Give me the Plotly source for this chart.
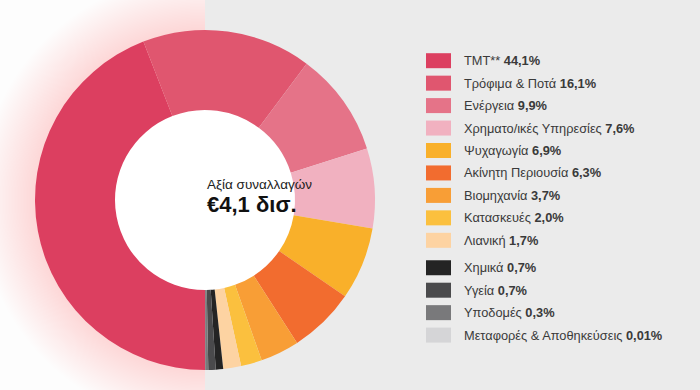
import numpy as np
import plotly.graph_objects as go

# ---------------- data ----------------
labels = ["TMT**", "Τρόφιμα & Ποτά", "Ενέργεια", "Χρηματο/ικές Υπηρεσίες",
          "Ψυχαγωγία", "Ακίνητη Περιουσία", "Βιομηχανία", "Κατασκευές",
          "Λιανική", "Χημικά", "Υγεία", "Υποδομές", "Μεταφορές & Αποθηκεύσεις"]
values = [44.1, 16.1, 9.9, 7.6, 6.9, 6.3, 3.7, 2.0, 1.7, 0.7, 0.7, 0.3, 0.01]
value_labels = ["44,1%", "16,1%", "9,9%", "7,6%", "6,9%", "6,3%", "3,7%",
                "2,0%", "1,7%", "0,7%", "0,7%", "0,3%", "0,01%"]
colors = ["#dc3f60", "#e0566f", "#e57388", "#f1b1c0", "#f9b02a", "#f26c2f",
          "#f89e36", "#fbc03e", "#fdd3a2", "#242424", "#4a4a4c", "#79797b",
          "#d5d5d7"]
center_title = "Αξία συναλλαγών"
center_value = "€4,1 δισ."

# ---------------- layout helpers ----------------
W, H = 700, 390
cx, cy, R = 205, 200, 170
r_hole = 90
FONT = "Liberation Sans, Arial, sans-serif"


def px(x):
    return x / W


def py(y):
    return 1 - y / H


def arc_path(r, side):
    if side == "left":
        t = np.linspace(np.pi / 2, 3 * np.pi / 2, 80)
    elif side == "right":
        t = np.linspace(-np.pi / 2, np.pi / 2, 80)
    else:
        t = np.linspace(0, 2 * np.pi, 160)
    xs = cx + r * np.cos(t)
    ys = cy - r * np.sin(t)
    pts = " L ".join(f"{px(a):.5f},{py(b):.5f}" for a, b in zip(xs, ys))
    return f"M {pts} Z"


shapes = []
# background halves
shapes.append(dict(type="rect", xref="paper", yref="paper", x0=0, x1=px(cx),
                   y0=0, y1=1, fillcolor="#fdfdfd", line=dict(width=0),
                   layer="below"))
shapes.append(dict(type="rect", xref="paper", yref="paper", x0=px(cx), x1=1,
                   y0=0, y1=1, fillcolor="#ebebeb", line=dict(width=0),
                   layer="below"))
# soft glow around the ring
for r in np.arange(R + 56, R - 1, -1.5):
    shapes.append(dict(type="path", xref="paper", yref="paper",
                       path=arc_path(r, "left"),
                       fillcolor="rgba(228,70,100,0.009)", line=dict(width=0),
                       layer="below"))
    shapes.append(dict(type="path", xref="paper", yref="paper",
                       path=arc_path(r, "right"),
                       fillcolor="rgba(255,255,255,0.04)", line=dict(width=0),
                       layer="below"))
# white centre of the donut
shapes.append(dict(type="path", xref="paper", yref="paper",
                   path=arc_path(r_hole + 1, "full"), fillcolor="#ffffff",
                   line=dict(width=0), layer="below"))

fig = go.Figure()
fig.add_trace(go.Pie(
    labels=labels, values=values, sort=False, direction="clockwise",
    rotation=180, hole=r_hole / R, textinfo="none", hoverinfo="label+percent",
    marker=dict(colors=colors, line=dict(width=0)),
    domain=dict(x=[px(cx - R), px(cx + R)], y=[py(cy + R), py(cy - R)]),
    showlegend=False,
))

annotations = [
    dict(x=px(cx), y=py(184), xref="paper", yref="paper", text=center_title,
         showarrow=False, font=dict(family=FONT, size=13.5, color="#222")),
    dict(x=px(cx), y=py(204), xref="paper", yref="paper",
         text=f"<b>{center_value}</b>", showarrow=False,
         font=dict(family=FONT, size=22, color="#111")),
]

# custom legend (wide swatches as in the reference)
for i, (lab, vl, col) in enumerate(zip(labels, value_labels, colors)):
    yc = 60.7 + 22.45 * i + (5 if i >= 9 else 0)
    shapes.append(dict(type="rect", xref="paper", yref="paper",
                       x0=px(426), x1=px(451), y0=py(yc + 7.5), y1=py(yc - 7.5),
                       fillcolor=col, line=dict(width=0)))
    annotations.append(dict(x=px(462), y=py(yc), xref="paper", yref="paper",
                            xanchor="left", yanchor="middle", showarrow=False,
                            text=f"{lab} <b>{vl}</b>",
                            font=dict(family=FONT, size=12.8, color="#3a3a3a")))

fig.update_layout(
    width=W, height=H, margin=dict(l=0, r=0, t=0, b=0),
    paper_bgcolor="#ebebeb", plot_bgcolor="#ebebeb",
    shapes=shapes, annotations=annotations, showlegend=False,
    font=dict(family=FONT),
)

fig.write_html("out.html", config={"displayModeBar": False},
               post_script="document.body.style.margin='0';"
                           "document.body.style.overflow='hidden';")
